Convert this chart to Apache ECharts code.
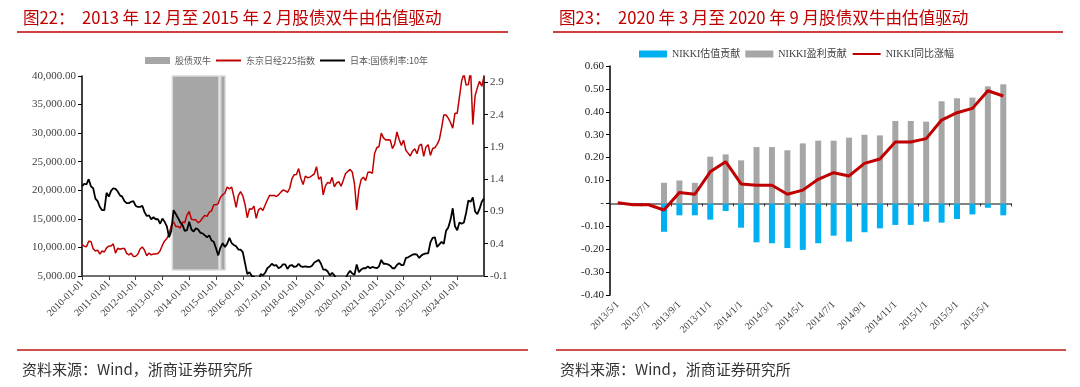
<!DOCTYPE html>
<html><head><meta charset="utf-8">
<script src="https://cdn.jsdelivr.net/npm/echarts@6/dist/echarts.min.js"></script>
<style>html,body{margin:0;padding:0;background:#fff}#c{width:1080px;height:387px}</style>
</head><body><div id="c"></div>
<script>
// ---------- Left chart data (month-end values, Dec 2009 .. Dec 2024) ----------
const nikkei225 = [
  10546,
  10198,10126,11090,11057,9769,9382,9537,8824,9369,9202,9937,10229,
  10237,10624,9000,9850,9693,9816,9833,8955,8700,8988,8434,8455,
  8803,9723,10084,9521,8543,9007,8695,8840,8870,8928,9446,10395,
  11139,11559,12398,13861,14500,13677,13668,13389,14456,14328,15662,16291,
  14915,14841,14828,14304,14632,15162,15621,15425,16174,16414,17460,17451,
  17674,18798,19207,19520,20563,20236,20585,18890,17000,19083,19747,19034,
  17518,15200,16759,16666,17235,15100,16569,16887,16450,17425,18308,19114,
  19041,19119,18909,19197,19651,20033,19925,19646,20356,22012,22725,22765,
  23800,22068,21000,22468,22202,22305,22554,22865,24120,21920,22351,19200,
  20773,21385,21206,22259,20601,21276,21522,20704,21756,22927,23294,23657,
  23205,21143,16550,20194,21878,22288,21710,23140,23185,22977,26434,27444,
  27663,30000,29179,28813,28860,28792,27284,28090,30200,28893,27822,28792,
  27002,26500,26000,26848,27280,26393,27802,28092,25937,27587,27969,26095,
  27327,27446,28041,28856,30888,33189,33172,32619,31858,30859,33487,33464,
  36287,39166,40369,38406,38488,41000,31500,36500,37920,39081,38208,39895
];
const jgb10y = [
  1.29,
  1.33,1.32,1.40,1.29,1.26,1.10,1.06,0.97,0.92,0.92,1.19,1.13,
  1.22,1.26,1.25,1.21,1.15,1.13,1.06,1.03,1.03,1.05,1.06,0.99,
  0.97,0.97,0.99,0.89,0.83,0.84,0.78,0.81,0.78,0.78,0.71,0.79,
  0.74,0.67,0.50,0.60,0.92,0.86,0.80,0.73,0.69,0.60,0.61,0.74,
  0.62,0.59,0.64,0.62,0.57,0.56,0.53,0.50,0.53,0.45,0.43,0.33,
  0.22,0.34,0.41,0.35,0.40,0.49,0.41,0.38,0.36,0.31,0.31,0.27,
  0.10,-0.07,-0.04,-0.10,-0.11,-0.22,-0.19,-0.07,-0.09,-0.05,0.02,0.05,
  0.09,0.06,0.07,0.02,0.04,0.08,0.08,0.01,0.06,0.07,0.04,0.05,
  0.09,0.05,0.04,0.05,0.04,0.04,0.06,0.11,0.13,0.15,0.09,0.00,
  0.00,-0.03,-0.09,-0.05,-0.09,-0.16,-0.16,-0.28,-0.22,-0.14,-0.07,-0.02,
  -0.06,-0.08,0.08,-0.04,0.00,0.02,0.02,0.05,0.02,0.04,0.03,0.02,
  0.05,0.15,0.09,0.09,0.08,0.06,0.02,0.02,0.07,0.10,0.07,0.07,
  0.18,0.19,0.21,0.23,0.24,0.23,0.18,0.22,0.24,0.25,0.25,0.42,
  0.49,0.50,0.35,0.39,0.43,0.40,0.60,0.65,0.77,0.95,0.67,0.61,
  0.73,0.71,0.73,0.88,1.07,1.05,1.12,0.90,0.86,0.94,1.05,1.10
];
// shaded "股债双牛" periods (fractional years) and their value span on the left axis
const bullPeriods = [[2013.37, 2015.11], [2015.175, 2015.34]];
const bullTop = 40000, bullBottom = 6050;
const leftTickLabels = ['5,000.00','10,000.00','15,000.00','20,000.00','25,000.00','30,000.00','35,000.00','40,000.00'];
const rightTicks = [-0.1, 0.4, 0.9, 1.4, 1.9, 2.4, 2.9];

// ---------- Right chart data ----------
const months = ['2013/5/1','2013/6/1','2013/7/1','2013/8/1','2013/9/1','2013/10/1','2013/11/1','2013/12/1',
  '2014/1/1','2014/2/1','2014/3/1','2014/4/1','2014/5/1','2014/6/1','2014/7/1','2014/8/1','2014/9/1',
  '2014/10/1','2014/11/1','2014/12/1','2015/1/1','2015/2/1','2015/3/1','2015/4/1','2015/5/1','2015/6/1'];
const valuationContrib = [0,0,0,-0.124,-0.052,-0.052,-0.071,-0.033,-0.106,-0.170,-0.174,-0.195,-0.203,
  -0.174,-0.141,-0.167,-0.126,-0.109,-0.094,-0.094,-0.080,-0.084,-0.068,-0.048,-0.019,-0.052];
const earningsContrib = [0,0,0,0.090,0.100,0.090,0.204,0.214,0.188,0.246,0.246,0.232,0.262,
  0.274,0.274,0.287,0.300,0.297,0.360,0.360,0.357,0.446,0.459,0.462,0.511,0.520];
const yoyChange = [0.003,-0.006,-0.006,-0.029,0.048,0.040,0.138,0.182,0.085,0.079,0.079,0.040,0.058,
  0.105,0.134,0.120,0.175,0.194,0.268,0.268,0.283,0.364,0.396,0.415,0.492,0.469];

const SERIF = "'Liberation Serif','Noto Sans CJK SC'";
const CJK = "'Noto Sans CJK SC'";
const RED = '#C00000';

const nikkeiData = nikkei225.map((v, i) => [2010 + i / 12, v]);
const jgbData = jgb10y.map((v, i) => [2010 + i / 12, v]);
const noDot = {opacity: 0};

const chart = echarts.init(document.getElementById('c'), null, {renderer: 'canvas'});
chart.setOption({
  animation: false,
  backgroundColor: '#fff',
  title: [
    {text: '图22：  2013 年 12 月至 2015 年 2 月股债双牛由估值驱动', left: 18, top: 4,
     textStyle: {color: RED, fontSize: 16.6, fontWeight: 'normal', fontFamily: CJK}},
    {text: '图23：  2020 年 3 月至 2020 年 9 月股债双牛由估值驱动', left: 554, top: 4,
     textStyle: {color: RED, fontSize: 16.6, fontWeight: 'normal', fontFamily: CJK}},
    {text: '资料来源：Wind，浙商证券研究所', left: 17, top: 357,
     textStyle: {color: '#333', fontSize: 15, fontWeight: 'normal', fontFamily: CJK}},
    {text: '资料来源：Wind，浙商证券研究所', left: 555, top: 357,
     textStyle: {color: '#333', fontSize: 15, fontWeight: 'normal', fontFamily: CJK}}
  ],
  graphic: [
    {type: 'line', shape: {x1: 17, y1: 32, x2: 508, y2: 32}, style: {stroke: RED, lineWidth: 1.5}},
    {type: 'line', shape: {x1: 553, y1: 32, x2: 1063, y2: 32}, style: {stroke: RED, lineWidth: 1.5}},
    {type: 'line', shape: {x1: 17, y1: 350, x2: 528, y2: 350}, style: {stroke: '#D0504D', lineWidth: 2}},
    {type: 'line', shape: {x1: 556, y1: 350, x2: 1066, y2: 350}, style: {stroke: '#D0504D', lineWidth: 2}}
  ],
  legend: [
    {left: 145, top: 56, itemWidth: 25, itemHeight: 7, itemGap: 4, padding: 0,
     textStyle: {fontSize: 9, color: '#595959', fontFamily: CJK},
     data: [{name: '股债双牛', icon: 'rect'},
            {name: '东京日经225指数', itemStyle: noDot},
            {name: '日本:国债利率:10年', itemStyle: noDot}]},
    {left: 639, top: 49, itemWidth: 28, itemHeight: 7, itemGap: 5, padding: 0,
     textStyle: {fontSize: 10, color: '#404040', fontFamily: SERIF},
     data: [{name: 'NIKKI估值贡献', icon: 'rect'}, {name: 'NIKKI盈利贡献', icon: 'rect'},
            {name: 'NIKKI同比涨幅', itemStyle: noDot}]}
  ],
  grid: [
    {left: 82, top: 76, width: 402, height: 200},
    {left: 610, top: 66, width: 401, height: 229}
  ],
  xAxis: [
    {gridIndex: 0, type: 'value', min: 2010, max: 2025, interval: 1,
     axisLine: {onZero: false, lineStyle: {color: '#404040', width: 1.5}},
     axisTick: {length: 4, lineStyle: {color: '#404040'}},
     splitLine: {show: false},
     axisLabel: {rotate: 45, fontSize: 10, color: '#404040', fontFamily: SERIF, margin: 6,
       showMaxLabel: false, formatter: v => v + '-01-01'}},
    {gridIndex: 1, type: 'category', data: months, position: 'bottom',
     axisLine: {show: false, onZero: false}, axisTick: {show: false},
     axisLabel: {interval: 1, rotate: 45, fontSize: 10, color: '#404040', fontFamily: SERIF, margin: 8}},
    {gridIndex: 1, type: 'category', data: months, position: 'top',
     axisLine: {onZero: true, lineStyle: {color: '#595959', width: 1.5}},
     axisTick: {show: true, interval: 1, inside: true, length: 3, lineStyle: {color: '#333'}},
     axisLabel: {show: false}}
  ],
  yAxis: [
    {gridIndex: 0, type: 'value', min: 5000, max: 40000, interval: 5000, position: 'left',
     axisLine: {show: true, lineStyle: {color: '#000', width: 1.5}},
     axisTick: {show: true, length: 4, lineStyle: {color: '#000'}},
     splitLine: {show: false},
     axisLabel: {fontSize: 11, color: '#404040', fontFamily: SERIF, margin: 6,
       formatter: v => leftTickLabels[Math.round((v - 5000) / 5000)] || ''}},
    {gridIndex: 0, type: 'value', min: -0.1, max: 3.0, position: 'right',
     axisLine: {show: true, lineStyle: {color: '#000', width: 1.5}},
     axisTick: {show: true, length: 4, lineStyle: {color: '#000'}, customValues: rightTicks},
     splitLine: {show: false},
     axisLabel: {fontSize: 11, color: '#404040', fontFamily: SERIF, margin: 6, customValues: rightTicks,
       formatter: v => (+v).toFixed(1)}},
    {gridIndex: 1, type: 'value', min: -0.4, max: 0.6, interval: 0.1,
     axisLine: {show: true, lineStyle: {color: '#000', width: 1.5}},
     axisTick: {show: true, length: 4, lineStyle: {color: '#000'}},
     splitLine: {show: false},
     axisLabel: {fontSize: 11, color: '#222', fontFamily: SERIF, margin: 6,
       formatter: v => Math.abs(v) < 1e-9 ? '-' : (+v).toFixed(2)}}
  ],
  series: [
    {name: '股债双牛', type: 'line', xAxisIndex: 0, yAxisIndex: 0, data: [], z: 1,
     itemStyle: {color: '#A6A6A6'}, lineStyle: {color: '#A6A6A6'},
     markArea: {silent: true,
       itemStyle: {color: '#A6A6A6', borderColor: '#D9D9D9', borderWidth: 1.5},
       data: bullPeriods.map(p => [{xAxis: p[0], yAxis: bullTop}, {xAxis: p[1], yAxis: bullBottom}])}},
    {name: '东京日经225指数', type: 'line', xAxisIndex: 0, yAxisIndex: 0, data: nikkeiData, z: 3,
     symbol: 'none', itemStyle: {color: RED}, lineStyle: {color: RED, width: 1.5}},
    {name: '日本:国债利率:10年', type: 'line', xAxisIndex: 0, yAxisIndex: 1, data: jgbData, z: 3,
     symbol: 'none', itemStyle: {color: '#000'}, lineStyle: {color: '#000', width: 1.8}},
    {name: 'NIKKI估值贡献', type: 'bar', xAxisIndex: 1, yAxisIndex: 2, stack: 'c', data: valuationContrib,
     barWidth: 6, itemStyle: {color: '#00B0F0'}},
    {name: 'NIKKI盈利贡献', type: 'bar', xAxisIndex: 1, yAxisIndex: 2, stack: 'c', data: earningsContrib,
     barWidth: 6, itemStyle: {color: '#A6A6A6'}},
    {name: 'NIKKI同比涨幅', type: 'line', xAxisIndex: 1, yAxisIndex: 2, data: yoyChange, z: 4,
     symbol: 'none', itemStyle: {color: RED}, lineStyle: {color: RED, width: 3}}
  ]
});
</script></body></html>
